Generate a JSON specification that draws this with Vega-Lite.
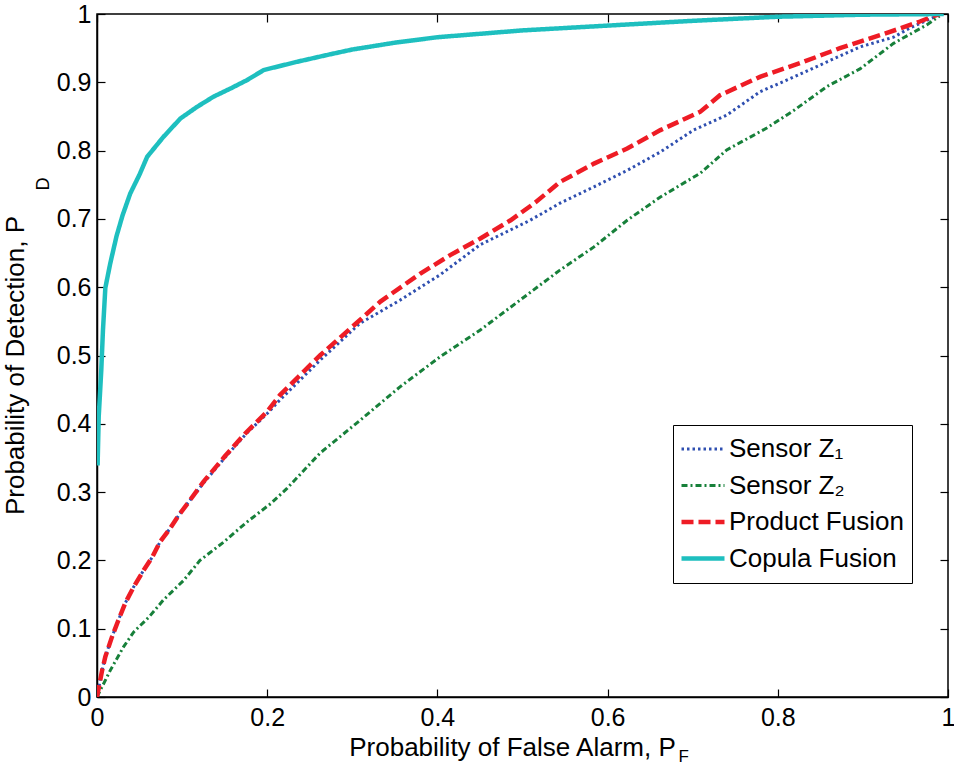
{
  "$schema": "https://vega.github.io/schema/vega-lite/v6.json",
  "width": 851,
  "height": 683,
  "autosize": {"type": "none"},
  "padding": {"left": 97, "top": 14, "right": 6, "bottom": 69},
  "background": "white",
  "config": {
    "font": "Liberation Sans",
    "view": {"stroke": "black", "strokeWidth": 1.5},
    "axis": {"grid": false, "domainColor": "black", "tickColor": "black", "labelColor": "black", "titleColor": "black", "titleFontWeight": "normal", "domainWidth": 1.5, "tickWidth": 1.2}
  },
  "data": {"values": [
    {"series": "Sensor Z₁", "pf": 0, "pd": 0},
    {"series": "Sensor Z₁", "pf": 0.006, "pd": 0.039},
    {"series": "Sensor Z₁", "pf": 0.0098, "pd": 0.059},
    {"series": "Sensor Z₁", "pf": 0.0176, "pd": 0.088},
    {"series": "Sensor Z₁", "pf": 0.025, "pd": 0.112},
    {"series": "Sensor Z₁", "pf": 0.033, "pd": 0.137},
    {"series": "Sensor Z₁", "pf": 0.043, "pd": 0.161},
    {"series": "Sensor Z₁", "pf": 0.055, "pd": 0.186},
    {"series": "Sensor Z₁", "pf": 0.065, "pd": 0.205},
    {"series": "Sensor Z₁", "pf": 0.074, "pd": 0.227},
    {"series": "Sensor Z₁", "pf": 0.086, "pd": 0.247},
    {"series": "Sensor Z₁", "pf": 0.096, "pd": 0.266},
    {"series": "Sensor Z₁", "pf": 0.108, "pd": 0.286},
    {"series": "Sensor Z₁", "pf": 0.125, "pd": 0.313},
    {"series": "Sensor Z₁", "pf": 0.15, "pd": 0.35},
    {"series": "Sensor Z₁", "pf": 0.175, "pd": 0.385},
    {"series": "Sensor Z₁", "pf": 0.2, "pd": 0.415},
    {"series": "Sensor Z₁", "pf": 0.215, "pd": 0.435},
    {"series": "Sensor Z₁", "pf": 0.262, "pd": 0.493},
    {"series": "Sensor Z₁", "pf": 0.309, "pd": 0.547},
    {"series": "Sensor Z₁", "pf": 0.356, "pd": 0.581},
    {"series": "Sensor Z₁", "pf": 0.403, "pd": 0.618},
    {"series": "Sensor Z₁", "pf": 0.45, "pd": 0.662},
    {"series": "Sensor Z₁", "pf": 0.509, "pd": 0.698},
    {"series": "Sensor Z₁", "pf": 0.544, "pd": 0.723},
    {"series": "Sensor Z₁", "pf": 0.584, "pd": 0.747},
    {"series": "Sensor Z₁", "pf": 0.623, "pd": 0.771},
    {"series": "Sensor Z₁", "pf": 0.662, "pd": 0.798},
    {"series": "Sensor Z₁", "pf": 0.701, "pd": 0.83},
    {"series": "Sensor Z₁", "pf": 0.74, "pd": 0.852},
    {"series": "Sensor Z₁", "pf": 0.779, "pd": 0.886},
    {"series": "Sensor Z₁", "pf": 0.819, "pd": 0.908},
    {"series": "Sensor Z₁", "pf": 0.858, "pd": 0.93},
    {"series": "Sensor Z₁", "pf": 0.897, "pd": 0.952},
    {"series": "Sensor Z₁", "pf": 0.936, "pd": 0.966},
    {"series": "Sensor Z₁", "pf": 0.956, "pd": 0.98},
    {"series": "Sensor Z₁", "pf": 0.983, "pd": 0.995},
    {"series": "Sensor Z₁", "pf": 0.99, "pd": 1},
    {"series": "Sensor Z₂", "pf": 0, "pd": 0},
    {"series": "Sensor Z₂", "pf": 0.0156, "pd": 0.039},
    {"series": "Sensor Z₂", "pf": 0.031, "pd": 0.073},
    {"series": "Sensor Z₂", "pf": 0.043, "pd": 0.095},
    {"series": "Sensor Z₂", "pf": 0.061, "pd": 0.117},
    {"series": "Sensor Z₂", "pf": 0.078, "pd": 0.142},
    {"series": "Sensor Z₂", "pf": 0.102, "pd": 0.171},
    {"series": "Sensor Z₂", "pf": 0.121, "pd": 0.2},
    {"series": "Sensor Z₂", "pf": 0.149, "pd": 0.227},
    {"series": "Sensor Z₂", "pf": 0.176, "pd": 0.256},
    {"series": "Sensor Z₂", "pf": 0.204, "pd": 0.283},
    {"series": "Sensor Z₂", "pf": 0.223, "pd": 0.305},
    {"series": "Sensor Z₂", "pf": 0.262, "pd": 0.357},
    {"series": "Sensor Z₂", "pf": 0.309, "pd": 0.405},
    {"series": "Sensor Z₂", "pf": 0.356, "pd": 0.454},
    {"series": "Sensor Z₂", "pf": 0.403, "pd": 0.498},
    {"series": "Sensor Z₂", "pf": 0.45, "pd": 0.537},
    {"series": "Sensor Z₂", "pf": 0.497, "pd": 0.581},
    {"series": "Sensor Z₂", "pf": 0.544, "pd": 0.625},
    {"series": "Sensor Z₂", "pf": 0.584, "pd": 0.659},
    {"series": "Sensor Z₂", "pf": 0.623, "pd": 0.698},
    {"series": "Sensor Z₂", "pf": 0.662, "pd": 0.732},
    {"series": "Sensor Z₂", "pf": 0.709, "pd": 0.767},
    {"series": "Sensor Z₂", "pf": 0.74, "pd": 0.801},
    {"series": "Sensor Z₂", "pf": 0.787, "pd": 0.833},
    {"series": "Sensor Z₂", "pf": 0.819, "pd": 0.859},
    {"series": "Sensor Z₂", "pf": 0.858, "pd": 0.894},
    {"series": "Sensor Z₂", "pf": 0.897, "pd": 0.92},
    {"series": "Sensor Z₂", "pf": 0.936, "pd": 0.957},
    {"series": "Sensor Z₂", "pf": 0.975, "pd": 0.984},
    {"series": "Sensor Z₂", "pf": 0.99, "pd": 0.997},
    {"series": "Product Fusion", "pf": 0, "pd": 0},
    {"series": "Product Fusion", "pf": 0.006, "pd": 0.039},
    {"series": "Product Fusion", "pf": 0.0098, "pd": 0.059},
    {"series": "Product Fusion", "pf": 0.0176, "pd": 0.088},
    {"series": "Product Fusion", "pf": 0.025, "pd": 0.112},
    {"series": "Product Fusion", "pf": 0.033, "pd": 0.137},
    {"series": "Product Fusion", "pf": 0.043, "pd": 0.161},
    {"series": "Product Fusion", "pf": 0.055, "pd": 0.186},
    {"series": "Product Fusion", "pf": 0.065, "pd": 0.205},
    {"series": "Product Fusion", "pf": 0.074, "pd": 0.227},
    {"series": "Product Fusion", "pf": 0.086, "pd": 0.247},
    {"series": "Product Fusion", "pf": 0.096, "pd": 0.266},
    {"series": "Product Fusion", "pf": 0.108, "pd": 0.286},
    {"series": "Product Fusion", "pf": 0.125, "pd": 0.315},
    {"series": "Product Fusion", "pf": 0.15, "pd": 0.352},
    {"series": "Product Fusion", "pf": 0.175, "pd": 0.387},
    {"series": "Product Fusion", "pf": 0.2, "pd": 0.418},
    {"series": "Product Fusion", "pf": 0.215, "pd": 0.442},
    {"series": "Product Fusion", "pf": 0.262, "pd": 0.5},
    {"series": "Product Fusion", "pf": 0.309, "pd": 0.552},
    {"series": "Product Fusion", "pf": 0.333, "pd": 0.579},
    {"series": "Product Fusion", "pf": 0.38, "pd": 0.62},
    {"series": "Product Fusion", "pf": 0.415, "pd": 0.647},
    {"series": "Product Fusion", "pf": 0.45, "pd": 0.671},
    {"series": "Product Fusion", "pf": 0.486, "pd": 0.698},
    {"series": "Product Fusion", "pf": 0.515, "pd": 0.724},
    {"series": "Product Fusion", "pf": 0.544, "pd": 0.754},
    {"series": "Product Fusion", "pf": 0.584, "pd": 0.781},
    {"series": "Product Fusion", "pf": 0.623, "pd": 0.803},
    {"series": "Product Fusion", "pf": 0.662, "pd": 0.83},
    {"series": "Product Fusion", "pf": 0.709, "pd": 0.857},
    {"series": "Product Fusion", "pf": 0.732, "pd": 0.881},
    {"series": "Product Fusion", "pf": 0.779, "pd": 0.908},
    {"series": "Product Fusion", "pf": 0.826, "pd": 0.928},
    {"series": "Product Fusion", "pf": 0.873, "pd": 0.95},
    {"series": "Product Fusion", "pf": 0.92, "pd": 0.969},
    {"series": "Product Fusion", "pf": 0.944, "pd": 0.979},
    {"series": "Product Fusion", "pf": 0.967, "pd": 0.989},
    {"series": "Product Fusion", "pf": 0.983, "pd": 0.997},
    {"series": "Product Fusion", "pf": 0.99, "pd": 1},
    {"series": "Copula Fusion", "pf": 0.0007, "pd": 0.339},
    {"series": "Copula Fusion", "pf": 0.002, "pd": 0.41},
    {"series": "Copula Fusion", "pf": 0.005, "pd": 0.478},
    {"series": "Copula Fusion", "pf": 0.007, "pd": 0.537},
    {"series": "Copula Fusion", "pf": 0.0098, "pd": 0.599},
    {"series": "Copula Fusion", "pf": 0.0156, "pd": 0.635},
    {"series": "Copula Fusion", "pf": 0.023, "pd": 0.675},
    {"series": "Copula Fusion", "pf": 0.03, "pd": 0.705},
    {"series": "Copula Fusion", "pf": 0.039, "pd": 0.737},
    {"series": "Copula Fusion", "pf": 0.05, "pd": 0.765},
    {"series": "Copula Fusion", "pf": 0.059, "pd": 0.791},
    {"series": "Copula Fusion", "pf": 0.078, "pd": 0.82},
    {"series": "Copula Fusion", "pf": 0.098, "pd": 0.847},
    {"series": "Copula Fusion", "pf": 0.1175, "pd": 0.864},
    {"series": "Copula Fusion", "pf": 0.137, "pd": 0.879},
    {"series": "Copula Fusion", "pf": 0.157, "pd": 0.891},
    {"series": "Copula Fusion", "pf": 0.176, "pd": 0.903},
    {"series": "Copula Fusion", "pf": 0.196, "pd": 0.918},
    {"series": "Copula Fusion", "pf": 0.235, "pd": 0.93},
    {"series": "Copula Fusion", "pf": 0.274, "pd": 0.941},
    {"series": "Copula Fusion", "pf": 0.3, "pd": 0.948},
    {"series": "Copula Fusion", "pf": 0.35, "pd": 0.958},
    {"series": "Copula Fusion", "pf": 0.4, "pd": 0.966},
    {"series": "Copula Fusion", "pf": 0.5, "pd": 0.976},
    {"series": "Copula Fusion", "pf": 0.6, "pd": 0.983},
    {"series": "Copula Fusion", "pf": 0.7, "pd": 0.99},
    {"series": "Copula Fusion", "pf": 0.8, "pd": 0.996},
    {"series": "Copula Fusion", "pf": 0.9, "pd": 0.999},
    {"series": "Copula Fusion", "pf": 0.995, "pd": 1}
  ]},
  "layer": [
    {
      "mark": {"type": "line", "clip": true},
      "encoding": {
        "x": {"field": "pf", "type": "quantitative", "scale": {"domain": [0, 1], "nice": false},
          "axis": {"orient": "bottom", "values": [0, 0.2, 0.4, 0.6, 0.8, 1], "format": "~g", "tickSize": -8, "labelPadding": 16, "labelFontSize": 25, "labelFlush": false,
            "title": "Probability of False Alarm, P", "titleFontSize": 26, "titleX": 415, "titleY": 58, "titleAlign": "center", "titleBaseline": "alphabetic"}},
        "y": {"field": "pd", "type": "quantitative", "scale": {"domain": [0, 1], "nice": false},
          "axis": {"orient": "left", "values": [0, 0.1, 0.2, 0.3, 0.4, 0.5, 0.6, 0.7, 0.8, 0.9, 1], "format": "~g", "tickSize": -8, "labelPadding": 14, "labelFontSize": 25, "labelFlush": false,
            "title": "Probability of Detection, P", "titleFontSize": 26, "titleAngle": -90, "titleX": -74, "titleY": 351, "titleAlign": "center", "titleBaseline": "alphabetic"}},
        "color": {"field": "series", "type": "nominal",
          "scale": {"domain": ["Sensor Z₁", "Sensor Z₂", "Product Fusion", "Copula Fusion"], "range": ["#2F4FB0", "#17803A", "#EE1C25", "#1EBFBF"]},
          "legend": {"title": null, "orient": "none", "legendX": 576, "legendY": 411, "fillColor": "white", "strokeColor": "black", "padding": 8,
            "symbolType": "stroke", "symbolSize": 1849, "symbolOffset": -2, "labelOffset": 2, "labelFontSize": 26, "labelColor": "black", "clipHeight": 32, "rowPadding": 4.5, "labelLimit": 400}},
        "strokeDash": {"field": "series", "type": "nominal",
          "scale": {"domain": ["Sensor Z₁", "Sensor Z₂", "Product Fusion", "Copula Fusion"], "range": [[2.5, 3], [6, 3, 2, 3], [12, 5], [1, 0]]}},
        "strokeWidth": {"field": "series", "type": "ordinal",
          "scale": {"type": "ordinal", "domain": ["Sensor Z₁", "Sensor Z₂", "Product Fusion", "Copula Fusion"], "range": [3, 3, 4.5, 4.5]}},
        "order": {"field": "pf", "type": "quantitative"}
      }
    },
    {
      "mark": {"type": "point", "opacity": 0},
      "encoding": {
        "x": {"field": "pf", "type": "quantitative",
          "axis": {"orient": "top", "values": [0, 0.2, 0.4, 0.6, 0.8, 1], "tickSize": -8, "labels": false, "domain": false,
            "title": "F", "titleFontSize": 17, "titleX": 581, "titleY": 747, "titleAlign": "left", "titleBaseline": "alphabetic"}},
        "y": {"field": "pd", "type": "quantitative",
          "axis": {"orient": "right", "values": [0, 0.1, 0.2, 0.3, 0.4, 0.5, 0.6, 0.7, 0.8, 0.9, 1], "tickSize": -8, "labels": false, "domain": false,
            "title": "D", "titleFontSize": 18, "titleAngle": -90, "titleX": -900, "titleY": 176, "titleAlign": "left", "titleBaseline": "alphabetic"}}
      }
    }
  ],
  "resolve": {"axis": {"x": "independent", "y": "independent"}}
}
